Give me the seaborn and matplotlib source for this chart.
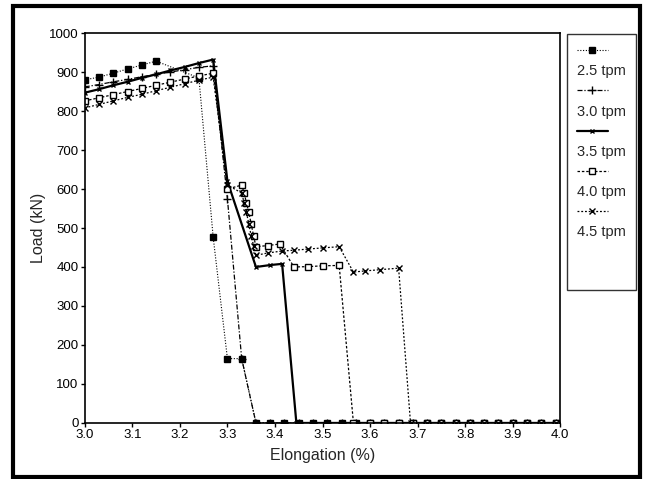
import matplotlib
matplotlib.use("Agg")
import matplotlib.pyplot as plt
from matplotlib.lines import Line2D
from matplotlib.patches import Rectangle
import seaborn as sns
import pandas as pd

sns.set_style("white")
plt.rcParams['font.family'] = ['Liberation Sans', 'DejaVu Sans']

series_names = ["2.5 tpm", "3.0 tpm", "3.5 tpm", "4.0 tpm", "4.5 tpm"]

x_25 = [3.00, 3.03, 3.06, 3.09, 3.12, 3.15, 3.24, 3.27, 3.30, 3.33, 3.36,
        3.39, 3.42, 3.45, 3.48, 3.51, 3.54, 3.57, 3.60, 3.63, 3.66, 3.69,
        3.72, 3.75, 3.78, 3.81, 3.84, 3.87, 3.90, 3.93, 3.96, 3.99]
y_25 = [880, 887, 897, 908, 918, 928, 885, 477, 165, 165, 0,
        0, 0, 0, 0, 0, 0, 0, 0, 0, 0, 0,
        0, 0, 0, 0, 0, 0, 0, 0, 0, 0]

x_30 = [3.00, 3.03, 3.06, 3.09, 3.12, 3.15, 3.18, 3.21, 3.24, 3.27, 3.30, 3.33, 3.36,
        3.39, 3.42, 3.45, 3.48, 3.51, 3.54, 3.57, 3.60, 3.63, 3.66, 3.69,
        3.72, 3.75, 3.78, 3.81, 3.84, 3.87, 3.90, 3.93, 3.96, 3.99]
y_30 = [862, 868, 875, 881, 888, 894, 900, 906, 912, 916, 575, 165, 0,
        0, 0, 0, 0, 0, 0, 0, 0, 0, 0, 0,
        0, 0, 0, 0, 0, 0, 0, 0, 0, 0]

x_35 = [3.00, 3.03, 3.06, 3.09, 3.12, 3.15, 3.18, 3.21, 3.24, 3.27, 3.30, 3.36,
        3.39, 3.415, 3.445, 3.48, 3.51, 3.54, 3.57, 3.60, 3.63, 3.66, 3.69,
        3.72, 3.75, 3.78, 3.81, 3.84, 3.87, 3.90, 3.93, 3.96, 3.99]
y_35 = [847, 856, 866, 875, 885, 894, 904, 913, 923, 932, 620, 400,
        405, 408, 0, 0, 0, 0, 0, 0, 0, 0, 0,
        0, 0, 0, 0, 0, 0, 0, 0, 0, 0]

x_40 = [3.00, 3.03, 3.06, 3.09, 3.12, 3.15, 3.18, 3.21, 3.24, 3.27, 3.30, 3.33,
        3.335, 3.34, 3.345, 3.35, 3.355, 3.36, 3.385, 3.41, 3.44, 3.47, 3.50,
        3.535, 3.565, 3.60, 3.63, 3.66, 3.69, 3.72, 3.75, 3.78, 3.81, 3.84,
        3.87, 3.90, 3.93, 3.96, 3.99]
y_40 = [826, 834, 842, 850, 858, 866, 874, 882, 890, 897, 600, 610,
        590, 565, 540, 510, 480, 452, 455, 459, 400, 401, 403,
        404, 0, 0, 0, 0, 0, 0, 0, 0, 0, 0,
        0, 0, 0, 0, 0]

x_45 = [3.00, 3.03, 3.06, 3.09, 3.12, 3.15, 3.18, 3.21, 3.24, 3.27, 3.30, 3.33,
        3.335, 3.34, 3.345, 3.35, 3.355, 3.36, 3.385, 3.415, 3.44, 3.47, 3.50,
        3.535, 3.565, 3.59, 3.62, 3.66, 3.685, 3.72, 3.75, 3.78, 3.81, 3.84,
        3.87, 3.90, 3.93, 3.96, 3.99]
y_45 = [808, 817, 826, 835, 843, 852, 861, 870, 879, 887, 610, 590,
        565, 540, 510, 480, 455, 430, 436, 441, 443, 446, 449,
        452, 387, 390, 393, 397, 0, 0, 0, 0, 0, 0,
        0, 0, 0, 0, 0]

x_ticks = [3.0, 3.1, 3.2, 3.3, 3.4, 3.5, 3.6, 3.7, 3.8, 3.9, 4.0]
y_ticks = [0, 100, 200, 300, 400, 500, 600, 700, 800, 900, 1000]

styles = {
    "2.5 tpm": dict(marker="s", linestyle=(0, (1, 1.5)), lw=0.8, ms=5, mfc="black"),
    "3.0 tpm": dict(marker="+", linestyle=(0, (4, 1.5, 1, 1.5)), lw=0.9, ms=6, mfc="black"),
    "3.5 tpm": dict(marker="x", linestyle="-", lw=1.6, ms=3, mfc="black"),
    "4.0 tpm": dict(marker="s", linestyle=(0, (2, 1.5)), lw=0.9, ms=4.5, mfc="white"),
    "4.5 tpm": dict(marker="x", linestyle=(0, (1.5, 1.5)), lw=0.9, ms=4.5, mfc="black"),
}

data = {
    "2.5 tpm": (x_25, y_25),
    "3.0 tpm": (x_30, y_30),
    "3.5 tpm": (x_35, y_35),
    "4.0 tpm": (x_40, y_40),
    "4.5 tpm": (x_45, y_45),
}

fig = plt.figure(figsize=(6.47, 4.79), dpi=100)
ax = fig.add_axes([0.131, 0.117, 0.735, 0.814])

for name in series_names:
    xs, ys = data[name]
    df = pd.DataFrame({"x": xs, "y": ys})
    st = styles[name]
    sns.lineplot(data=df, x="x", y="y", ax=ax, color="black", estimator=None,
                 sort=False, marker=st["marker"], markersize=st["ms"],
                 markerfacecolor=st["mfc"], markeredgecolor="black",
                 markeredgewidth=1.0, linewidth=st["lw"], linestyle=st["linestyle"],
                 label=name)

ax.set_xlim(3.0, 4.0)
ax.set_ylim(0, 1000)
ax.set_xticks(x_ticks)
ax.set_xticklabels([f"{t:.1f}" for t in x_ticks])
ax.set_yticks(y_ticks)
ax.set_yticklabels([str(t) for t in y_ticks])
ax.tick_params(axis="both", direction="out", length=3, width=1, colors="black",
               labelsize=9.5, pad=1.5, left=True, bottom=True)
for sp in ax.spines.values():
    sp.set_visible(True)
    sp.set_color("black")
    sp.set_linewidth(1.2)
ax.set_xlabel("Elongation (%)", fontsize=11.5, labelpad=5)
ax.set_ylabel("Load (kN)", fontsize=11.5, labelpad=2)

# legend: marker line above label
h, l = ax.get_legend_handles_labels()
hmap = dict(zip(l, h))
blank = Line2D([], [], linestyle="none", marker=None)
handles, labels = [], []
for name in series_names:
    handles.append(hmap[name]); labels.append("")
    handles.append(blank); labels.append(name)
handles += [blank, blank]
labels += ["", ""]
leg = ax.legend(handles, labels, loc="upper left", bbox_to_anchor=(0.876, 0.929),
                bbox_transform=fig.transFigure, borderaxespad=0, fontsize=10.5,
                frameon=True, fancybox=False, edgecolor="black",
                handlelength=2.1, handletextpad=-2.1, labelspacing=0.42,
                borderpad=0.7, markerscale=1.0)
leg.get_frame().set_linewidth(1.0)

fig.patches.append(Rectangle((13 / 647, 2 / 479), 627 / 647, 471 / 479,
                             transform=fig.transFigure, fill=False,
                             edgecolor="black", linewidth=3.0, zorder=10))

fig.savefig("out.png", dpi=100)
